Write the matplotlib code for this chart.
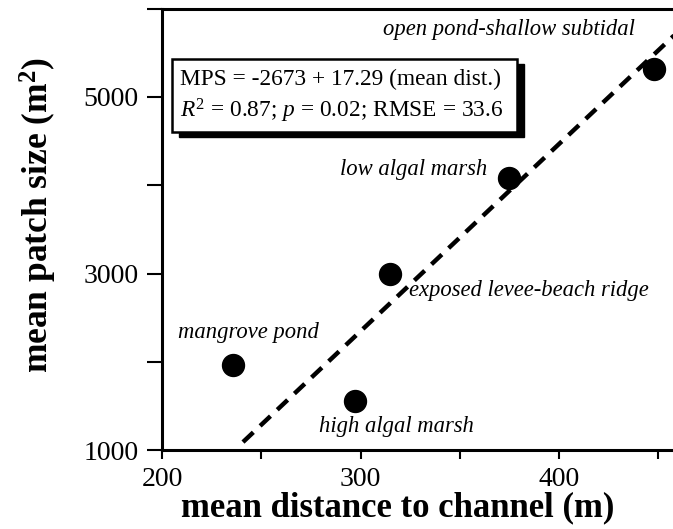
import matplotlib
matplotlib.use("Agg")
import matplotlib.pyplot as plt
from matplotlib.patches import Rectangle

plt.rcParams['font.family'] = ['Liberation Serif', 'DejaVu Serif']
plt.rcParams['mathtext.fontset'] = 'custom'
plt.rcParams['mathtext.rm'] = 'Liberation Serif'
plt.rcParams['mathtext.it'] = 'Liberation Serif:italic'
plt.rcParams['mathtext.bf'] = 'Liberation Serif:bold'

# ---- data ----
habitats = ["mangrove pond", "high algal marsh", "exposed levee-beach ridge",
            "low algal marsh", "open pond-shallow subtidal"]
mean_dist = [236, 297, 315, 375, 448]
mean_patch = [1960, 1550, 3000, 4080, 5320]
label_x = [208, 279, 324.5, 363.7, 438.3]
label_y = [2337, 1261, 2813, 4173, 5770]
label_ha = ["left", "left", "left", "right", "right"]

fit_x = [240.8, 460.0]
fit_y = [1090, 5740]

x_ticks = [200, 250, 300, 350, 400, 450]
x_ticklabels = ["200", "", "300", "", "400", ""]
y_ticks = [1000, 2000, 3000, 4000, 5000, 6000]
y_ticklabels = ["1000", "", "3000", "", "5000", ""]

eq_text = "MPS = -2673 + 17.29 (mean dist.)\n" + \
          r"$\mathit{R}^{\mathrm{2}}$ = 0.87; $\mathit{p}$ = 0.02; RMSE = 33.6"

W, H = 673, 529
fig = plt.figure(figsize=(W / 100, H / 100), dpi=100)
ax = fig.add_axes([162 / W, (H - 450) / H, (W - 162) / W, (450 - 8.75) / H])

ax.plot(fit_x, fit_y, color='black', lw=3.2, dashes=(3.2, 2.1),
        solid_capstyle='butt', dash_capstyle='butt', zorder=2)
ax.plot(mean_dist, mean_patch, 'o', color='black', ms=15.8, zorder=3)

for name, lx, ly, ha in zip(habitats, label_x, label_y, label_ha):
    ax.text(lx, ly, name, style='italic', fontsize=16.3, ha=ha, va='center')

ax.set_xlim(200, 200 + 511 / 1.985)
ax.set_ylim(1000, 6000)
ax.set_xticks(x_ticks)
ax.set_xticklabels(x_ticklabels)
ax.set_yticks(y_ticks)
ax.set_yticklabels(y_ticklabels)
ax.tick_params(axis='x', direction='out', length=6.5, width=1.5, labelsize=20, pad=6)
ax.tick_params(axis='y', direction='out', length=11, width=1.5, labelsize=20, pad=6)

for s in ['left', 'bottom', 'top']:
    ax.spines[s].set_linewidth(2.2)
ax.spines['right'].set_visible(False)

ax.set_xlabel("mean distance to channel (m)", fontsize=25, fontweight='bold',
              va='center', ha='center')
ax.xaxis.set_label_coords((398 - 162) / 511, -(508 - 450) / 441.25)
ax.set_ylabel(r"mean patch size (m$^{\mathbf{2}}$)", fontsize=25.5, fontweight='bold',
              va='center', ha='center')
ax.yaxis.set_label_coords((38 - 162) / 511, (450 - 215) / 441.25)

# equation box with drop shadow (figure pixel layout)
bx0, by0, bx1, by1 = 171.5, 59, 517, 132
fig.patches.append(Rectangle(((bx0 + 7) / W, (H - by1 - 5) / H), (bx1 - bx0) / W, (by1 - by0) / H,
                             transform=fig.transFigure, facecolor='black', edgecolor='black', zorder=5))
fig.patches.append(Rectangle((bx0 / W, (H - by1) / H), (bx1 - bx0) / W, (by1 - by0) / H,
                             transform=fig.transFigure, facecolor='white', edgecolor='black',
                             lw=1.8, zorder=6))
fig.text(180 / W, (H - 97) / H, eq_text, fontsize=16.8, ha='left', va='center',
         linespacing=1.3, zorder=7)

fig.savefig("out.png", dpi=100)
